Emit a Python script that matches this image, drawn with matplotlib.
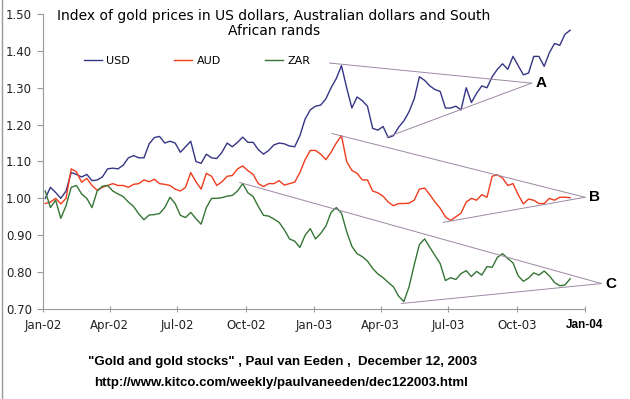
import matplotlib
matplotlib.use("Agg")
import matplotlib.pyplot as plt
import matplotlib.dates as mdates
import pandas as pd

# weekly readings (Fridays), index of gold price, Jan 2002 = 1.00
weeks = pd.date_range("2002-01-04", "2003-12-12", freq="W-FRI")

usd = [1.00, 1.03, 1.016, 1.00, 1.02, 1.07, 1.065, 1.058, 1.065, 1.048,
       1.05, 1.058, 1.08, 1.082, 1.08, 1.09, 1.11, 1.116, 1.11, 1.11,
       1.148, 1.165, 1.168, 1.15, 1.155, 1.15, 1.125, 1.14, 1.155, 1.10,
       1.095, 1.12, 1.11, 1.108, 1.125, 1.15, 1.14, 1.152, 1.166, 1.152,
       1.152, 1.132, 1.12, 1.13, 1.145, 1.15, 1.148, 1.142, 1.14, 1.17,
       1.215, 1.24, 1.25, 1.253, 1.27, 1.30, 1.325, 1.36, 1.30, 1.245,
       1.275, 1.265, 1.25, 1.19, 1.185, 1.195, 1.165, 1.17, 1.193, 1.21,
       1.235, 1.27, 1.33, 1.32, 1.305, 1.295, 1.29, 1.245, 1.245, 1.25,
       1.24, 1.30, 1.26, 1.285, 1.305, 1.30, 1.33, 1.35, 1.365, 1.35,
       1.385, 1.36, 1.335, 1.34, 1.385, 1.385, 1.358, 1.395, 1.42, 1.415,
       1.445, 1.456]

aud = [0.986, 0.99, 1.00, 0.985, 1.00, 1.08, 1.072, 1.044, 1.054, 1.035,
       1.022, 1.03, 1.035, 1.04, 1.035, 1.035, 1.03, 1.038, 1.04, 1.05,
       1.045, 1.052, 1.04, 1.038, 1.035, 1.025, 1.02, 1.03, 1.07, 1.045,
       1.025, 1.068, 1.06, 1.035, 1.045, 1.06, 1.062, 1.08, 1.088, 1.075,
       1.065, 1.04, 1.032, 1.04, 1.04, 1.048, 1.036, 1.04, 1.044, 1.07,
       1.105, 1.13, 1.13, 1.12, 1.105, 1.125, 1.15, 1.17, 1.10, 1.076,
       1.068, 1.05, 1.05, 1.02, 1.015, 1.006, 0.99, 0.98, 0.986, 0.986,
       0.987, 0.995, 1.025, 1.028, 1.01, 0.99, 0.973, 0.95, 0.94, 0.95,
       0.96, 0.99, 1.00, 0.995, 1.01, 1.003, 1.06, 1.064, 1.055, 1.035,
       1.04, 1.01, 0.985, 0.998, 0.995, 0.986, 0.986, 1.00, 0.995, 1.003,
       1.003, 1.002]

zar = [1.02, 0.975, 0.995, 0.946, 0.98, 1.03, 1.035, 1.012, 1.00, 0.975,
       1.02, 1.033, 1.035, 1.02, 1.012, 1.005, 0.99, 0.978, 0.958, 0.942,
       0.955, 0.956, 0.959, 0.975, 1.003, 0.986, 0.954, 0.948, 0.962, 0.945,
       0.93, 0.975, 1.00, 1.00, 1.002, 1.006, 1.008, 1.02, 1.04, 1.015,
       1.005, 0.978, 0.954, 0.952, 0.944, 0.935, 0.915, 0.89, 0.884, 0.867,
       0.90, 0.918, 0.89, 0.905, 0.925, 0.962, 0.975, 0.96, 0.91, 0.87,
       0.85, 0.842, 0.83, 0.81, 0.795, 0.785, 0.772, 0.76, 0.735, 0.72,
       0.76, 0.82, 0.875, 0.89, 0.867, 0.845, 0.823, 0.777, 0.785, 0.78,
       0.796, 0.804, 0.788, 0.802, 0.792, 0.815, 0.813, 0.84, 0.85, 0.837,
       0.825, 0.79, 0.775, 0.784, 0.798, 0.792, 0.803, 0.79, 0.772, 0.763,
       0.765, 0.782]

# converging trend lines: label -> (apex, start points)
trends = {
    "A": (("2003-10-21", 1.3125), [("2003-01-22", 1.367), ("2003-04-09", 1.166)]),
    "B": (("2004-01-01", 1.003), [("2003-01-25", 1.176), ("2003-06-24", 0.935)]),
    "C": (("2004-01-23", 0.769), [("2002-09-23", 1.043), ("2003-04-29", 0.715)]),
}

fig = plt.figure(figsize=(6.3, 3.99), dpi=100)
ax = fig.add_axes([43 / 630, 1 - 309 / 399, 542 / 630, 295 / 399])

ax.plot(weeks, usd, color="#353585", lw=1.0, label="USD")
ax.plot(weeks, aud, color="#f03c1e", lw=1.0, label="AUD")
ax.plot(weeks, zar, color="#357535", lw=1.0, label="ZAR")

for name, (apex, starts) in trends.items():
    ax_d = pd.Timestamp(apex[0])
    for d, v in starts:
        ax.plot([pd.Timestamp(d), ax_d], [v, apex[1]], color="#9c88a2",
                lw=0.7, clip_on=False)
    ax.annotate(name, (ax_d, apex[1]), xytext=(3, 0), textcoords="offset points",
                ha="left", va="center", fontsize=11, fontweight="bold",
                family="Liberation Sans", annotation_clip=False)

ax.set_xlim(pd.Timestamp("2002-01-01"), pd.Timestamp("2004-01-01"))
ax.set_ylim(0.70, 1.50)
ax.set_yticks([0.7, 0.8, 0.9, 1.0, 1.1, 1.2, 1.3, 1.4, 1.5])
ax.yaxis.set_major_formatter(plt.FormatStrFormatter("%.2f"))
ax.xaxis.set_major_locator(mdates.MonthLocator(bymonth=[1, 4, 7, 10]))
ax.xaxis.set_major_formatter(mdates.DateFormatter("%b-%y"))

for s in ["top", "right"]:
    ax.spines[s].set_visible(False)
for s in ["left", "bottom"]:
    ax.spines[s].set_color("#999999")
ax.tick_params(axis="both", colors="#999999", labelcolor="#222222", labelsize=8.5)
ax.tick_params(axis="x", direction="inout", length=5, pad=5)
ax.tick_params(axis="y", direction="out", length=4, pad=4)

# last tick label was pasted in bold in the original
ax.figure.canvas.draw()
lbls = ax.get_xticklabels()
lbls[-1].set_fontweight("bold")
lbls[-1].set_family("Liberation Sans")
lbls[-1].set_color("black")

ax.legend(loc="center left", bbox_to_anchor=(84 / 630, 1 - 61 / 399),
          bbox_transform=fig.transFigure, ncol=3, frameon=False, fontsize=8,
          handlelength=1.6, handletextpad=0.4, columnspacing=4.0,
          borderpad=0, borderaxespad=0)

fig.text(274 / 630, 1 - 9 / 399,
         "Index of gold prices in US dollars, Australian dollars and South\nAfrican rands",
         ha="center", va="top", fontsize=10, linespacing=1.1)

fig.text(283 / 630, 1 - 362 / 399,
         '"Gold and gold stocks" , Paul van Eeden ,  December 12, 2003',
         ha="center", va="center", fontsize=9.5, fontweight="bold",
         family="Liberation Sans")
fig.text(281 / 630, 1 - 383 / 399,
         "http://www.kitco.com/weekly/paulvaneeden/dec122003.html",
         ha="center", va="center", fontsize=9.5, fontweight="bold",
         family="Liberation Sans")

fig.add_artist(plt.Line2D([2 / 630, 2 / 630], [0, 1], color="#999999", lw=1))

fig.savefig("out.png", dpi=100)
